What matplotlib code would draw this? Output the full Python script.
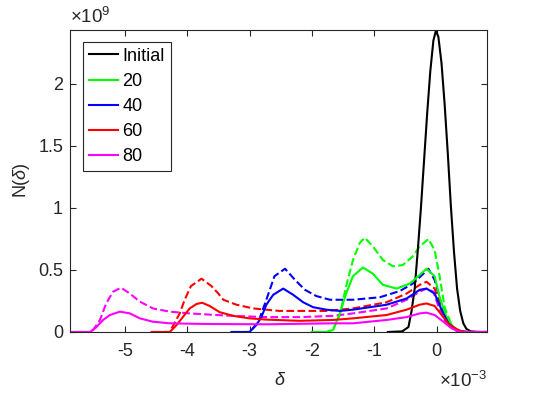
import matplotlib
matplotlib.use("Agg")
import matplotlib.pyplot as plt
import numpy as np

plt.rcParams['font.family'] = ['Liberation Sans', 'DejaVu Sans']
plt.rcParams['mathtext.fontset'] = 'custom'
plt.rcParams['mathtext.rm'] = 'Liberation Sans'
plt.rcParams['mathtext.it'] = 'Liberation Sans:italic'

# x in units of 1e-3, y in units of 1e9
x_init = [-0.78, -0.55, -0.45, -0.40, -0.35, -0.30, -0.25, -0.20, -0.15, -0.10, -0.05, -0.01,
          0.03, 0.08, 0.13, 0.18, 0.23, 0.28, 0.33, 0.38, 0.43, 0.48, 0.55, 0.65, 0.80]
y_init = [0.0, 0.005, 0.04, 0.17, 0.35, 0.66, 1.00, 1.38, 1.76, 2.10, 2.35, 2.43,
          2.38, 2.17, 1.84, 1.45, 1.02, 0.65, 0.35, 0.17, 0.07, 0.025, 0.005, 0.0, 0.0]

x_20 = [-2.0, -1.77, -1.66, -1.55, -1.45, -1.34, -1.18, -1.02, -0.86, -0.64, -0.43, -0.27,
        -0.16, -0.03, 0.05, 0.16, 0.27, 0.37, 0.55, 0.80]
y_20 = [0.0, 0.0, 0.016, 0.15, 0.31, 0.45, 0.52, 0.47, 0.38, 0.35, 0.39, 0.46,
        0.51, 0.45, 0.28, 0.12, 0.04, 0.01, 0.0, 0.0]
x_20d = [-2.0, -1.75, -1.65, -1.55, -1.45, -1.34, -1.23, -1.15, -1.02, -0.86, -0.70, -0.54,
         -0.38, -0.27, -0.13, -0.03, 0.05, 0.13, 0.24, 0.37, 0.55, 0.80]
y_20d = [0.0, 0.0, 0.03, 0.14, 0.37, 0.58, 0.72, 0.76, 0.69, 0.58, 0.53, 0.54,
         0.61, 0.69, 0.75, 0.66, 0.45, 0.20, 0.056, 0.0, 0.0, 0.0]

x_40 = [-3.29, -3.0, -2.89, -2.81, -2.73, -2.62, -2.46, -2.30, -2.14, -1.98, -1.77, -1.55,
        -1.34, -0.80, -0.48, -0.27, -0.16, -0.03, 0.08, 0.19, 0.32, 0.45, 0.80]
y_40 = [0.0, 0.0, 0.056, 0.12, 0.22, 0.30, 0.35, 0.30, 0.24, 0.20, 0.18, 0.17,
        0.18, 0.22, 0.27, 0.34, 0.35, 0.31, 0.18, 0.07, 0.016, 0.0, 0.0]
x_40d = [-3.29, -3.0, -2.86, -2.73, -2.60, -2.43, -2.27, -2.11, -1.93, -1.71, -1.50, -1.34,
         -0.91, -0.59, -0.38, -0.21, -0.13, -0.03, 0.08, 0.19, 0.32, 0.45, 0.80]
y_40d = [0.0, 0.0, 0.08, 0.26, 0.45, 0.51, 0.42, 0.34, 0.29, 0.26, 0.26, 0.26,
         0.28, 0.33, 0.39, 0.47, 0.51, 0.42, 0.22, 0.08, 0.01, 0.0, 0.0]

x_60 = [-4.57, -4.28, -4.17, -4.07, -3.96, -3.85, -3.76, -3.64, -3.48, -3.26, -3.0, -2.73,
        -2.2, -1.66, -1.34, -0.80, -0.48, -0.27, -0.16, -0.03, 0.11, 0.21, 0.37, 0.50, 0.80]
y_60 = [0.0, 0.0, 0.056, 0.12, 0.19, 0.226, 0.236, 0.21, 0.16, 0.13, 0.11, 0.10,
        0.09, 0.097, 0.11, 0.137, 0.18, 0.22, 0.23, 0.21, 0.12, 0.056, 0.01, 0.0, 0.0]
x_60d = [-4.57, -4.28, -4.12, -4.04, -3.94, -3.77, -3.61, -3.50, -3.42, -3.21, -2.94, -2.52,
         -2.2, -1.77, -1.34, -0.80, -0.48, -0.27, -0.16, -0.03, 0.08, 0.21, 0.37, 0.50, 0.80]
y_60d = [0.0, 0.0, 0.15, 0.26, 0.37, 0.43, 0.37, 0.31, 0.26, 0.22, 0.19, 0.17,
         0.17, 0.17, 0.19, 0.24, 0.31, 0.38, 0.405, 0.35, 0.18, 0.05, 0.0, 0.0, 0.0]

x_80 = [-5.88, -5.56, -5.46, -5.35, -5.24, -5.08, -4.92, -4.76, -4.55, -4.28, -3.75, -2.73,
        -1.66, -1.34, -0.80, -0.48, -0.27, -0.16, -0.03, 0.11, 0.24, 0.37, 0.50, 0.80]
y_80 = [0.0, 0.0, 0.038, 0.097, 0.137, 0.164, 0.15, 0.11, 0.083, 0.07, 0.065, 0.062,
        0.07, 0.07, 0.097, 0.12, 0.15, 0.156, 0.137, 0.083, 0.03, 0.0, 0.0, 0.0]
x_80d = [-5.88, -5.60, -5.51, -5.40, -5.30, -5.19, -5.06, -4.92, -4.76, -4.55, -4.28, -3.96,
         -3.64, -3.26, -2.73, -2.19, -1.66, -1.34, -0.80, -0.48, -0.27, -0.16, -0.05, 0.05,
         0.16, 0.32, 0.45, 0.80]
y_80d = [0.0, 0.0, 0.016, 0.097, 0.23, 0.325, 0.357, 0.31, 0.245, 0.19, 0.164, 0.15,
         0.14, 0.13, 0.12, 0.12, 0.13, 0.15, 0.19, 0.26, 0.325, 0.35, 0.325, 0.18,
         0.07, 0.016, 0.0, 0.0]

labels = ['Initial', '20', '40', '60', '80']

fig = plt.figure(figsize=(5.39, 3.95), dpi=100)
ax = fig.add_axes([0.1299, 0.1595, 0.7736, 0.7645])

lw = 1.5
# dashed series first, solid on top
ax.plot(x_20d, y_20d, '--', color=(0, 1, 0), lw=lw)
ax.plot(x_40d, y_40d, '--', color=(0, 0, 1), lw=lw)
ax.plot(x_60d, y_60d, '--', color=(1, 0, 0), lw=lw)
ax.plot(x_80d, y_80d, '--', color=(1, 0, 1), lw=lw)
h0, = ax.plot(x_init, y_init, '-', color='k', lw=lw)
h1, = ax.plot(x_20, y_20, '-', color=(0, 1, 0), lw=lw)
h2, = ax.plot(x_40, y_40, '-', color=(0, 0, 1), lw=lw)
h3, = ax.plot(x_60, y_60, '-', color=(1, 0, 0), lw=lw)
h4, = ax.plot(x_80, y_80, '-', color=(1, 0, 1), lw=lw)

ax.set_xlim(-5.88, 0.81)
ax.set_ylim(0, 2.435)
ax.set_xticks([-5, -4, -3, -2, -1, 0])
ax.set_xticklabels(['-5', '-4', '-3', '-2', '-1', '0'])
ax.set_yticks([0, 0.5, 1, 1.5, 2])
ax.set_yticklabels(['0', '0.5', '1', '1.5', '2'])

edge = (0.15, 0.15, 0.15)
for s in ax.spines.values():
    s.set_color(edge)
    s.set_linewidth(0.8)
ax.tick_params(direction='in', length=4, width=0.8, colors=edge, labelsize=13,
               top=True, right=True, labelcolor=edge)
ax.tick_params(axis='x', pad=8)
ax.tick_params(axis='y', pad=5)

ax.text(0.0, 1.01, r'$\times10^{9}$', transform=ax.transAxes, fontsize=13.5,
        color=edge, ha='left', va='bottom')
fig.text(0.9035, 0.01, r'$\times10^{-3}$', fontsize=13.5,
         color=edge, ha='right', va='bottom')

fig.text(0.519, 0.015, r'$\delta$', fontsize=13, color=edge, ha='center', va='bottom')
fig.text(0.04, 0.545, r'N($\delta$)', fontsize=13, color=edge, ha='center', va='center',
         rotation=90)

leg = ax.legend([h0, h1, h2, h3, h4], labels, loc='upper left', fontsize=13,
                bbox_to_anchor=(0.032, 0.961), borderaxespad=0, handlelength=1.6,
                handletextpad=0.22, labelspacing=0.45, borderpad=0.33, fancybox=False,
                framealpha=1)
leg.get_frame().set_edgecolor(edge)
leg.get_frame().set_linewidth(0.8)

fig.savefig('out.png', dpi=100)
